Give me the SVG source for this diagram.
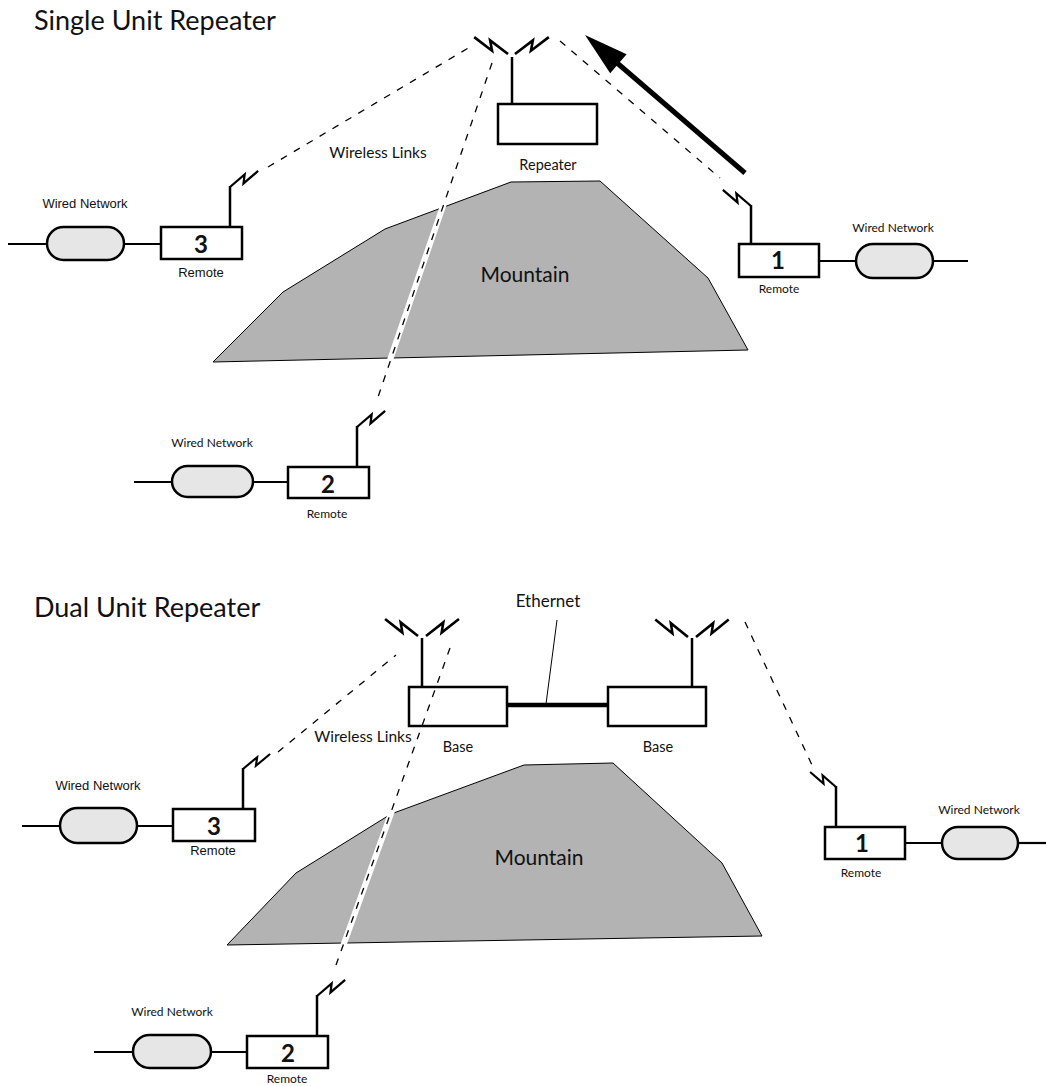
<svg xmlns="http://www.w3.org/2000/svg" width="1046" height="1086" viewBox="0 0 1046 1086">
  <style>
    .gs { font-family: Lato, "Noto Sans", sans-serif; fill: #111; }
    .hv { font-family: "Liberation Sans", Arial, sans-serif; fill: #111; }
    .title { font-size: 27px; }
    .lbl { font-size: 14.5px; text-anchor: middle; }
    .links { font-size: 15.5px; text-anchor: middle; }
    .eth { font-size: 17px; text-anchor: middle; }
    .small { font-size: 12px; text-anchor: middle; }
    .smallhv { font-size: 13px; text-anchor: middle; }
    .num { font-size: 24px; font-weight: 700; text-anchor: middle; }
    .mtn-label { font-size: 21px; text-anchor: middle; }
    .box { fill: #fff; stroke: #000; stroke-width: 2.5; }
    .pill { fill: #e6e6e6; stroke: #000; stroke-width: 2.5; }
    .wire { stroke: #000; stroke-width: 2.2; fill: none; }
    .mast { stroke: #000; stroke-width: 2.5; fill: none; }
    .bolt { stroke: #000; stroke-width: 2.5; fill: none; stroke-linejoin: miter; }
    .mountain { fill: #b3b3b3; stroke: #000; stroke-width: 1; stroke-linejoin: miter; }
    .gap { stroke: #fff; stroke-width: 6; fill: none; }
    .link { stroke: #000; stroke-width: 1.3; stroke-dasharray: 7 8; fill: none; }
  </style>
  <defs>
    <!-- radio bolt: starts at mast end (0,0), runs out along +x -->
    <path id="bolt" class="bolt" d="M0,0 L21,4 L15,-4 L36,0"/>
  </defs>

  <!-- ===== Single Unit Repeater ===== -->
  <text class="gs title" x="34" y="30">Single Unit Repeater</text>

  <g id="mountain-top">
    <polygon class="mountain" points="213,362 283,292 385,229 511,182 600,181 708,278 748,350"/>
    <line class="gap" x1="444" y1="203" x2="389" y2="363"/>
    <text class="gs mtn-label" x="525" y="282">Mountain</text>
  </g>

  <g id="repeater">
    <use href="#bolt" transform="translate(508,54) rotate(206.57) scale(1.05)"/>
    <use href="#bolt" transform="translate(515,54) rotate(-26.57) scale(1.05,-1.05)"/>
    <line class="mast" x1="512" y1="57" x2="512" y2="104"/>
    <rect class="box" x="498" y="104" width="99" height="40"/>
    <text class="gs lbl" x="548" y="170">Repeater</text>
  </g>

  <g id="remote3-top">
    <use href="#bolt" transform="translate(230,187) rotate(-29.7) scale(0.9,-0.9)"/>
    <line class="mast" x1="230" y1="186" x2="230" y2="227"/>
    <rect class="box" x="161" y="227" width="81" height="32"/>
    <text class="gs num" x="201" y="253">3</text>
    <text class="hv smallhv" x="201" y="277">Remote</text>
    <rect class="pill" x="47" y="227" width="77" height="33" rx="16.5"/>
    <text class="hv smallhv" x="85" y="208">Wired Network</text>
  </g>

  <g id="remote1-top">
    <use href="#bolt" transform="translate(751,206) rotate(209.7) scale(0.9)"/>
    <line class="mast" x1="751" y1="205" x2="751" y2="244"/>
    <rect class="box" x="739" y="244" width="80" height="33"/>
    <text class="gs num" x="778" y="269">1</text>
    <text class="gs small" x="779" y="293">Remote</text>
    <rect class="pill" x="856" y="244" width="77" height="34" rx="17"/>
    <text class="gs small" x="893" y="232">Wired Network</text>
  </g>

  <g id="remote2-top">
    <use href="#bolt" transform="translate(357,427) rotate(-29.7) scale(0.9,-0.9)"/>
    <line class="mast" x1="357" y1="426" x2="357" y2="467"/>
    <rect class="box" x="288" y="467" width="81" height="31"/>
    <text class="gs num" x="328" y="493">2</text>
    <text class="gs small" x="327" y="518">Remote</text>
    <rect class="pill" x="172" y="466" width="81" height="31" rx="15.5"/>
    <text class="gs small" x="212" y="447">Wired Network</text>
  </g>

  <g id="connectors-top">
    <line class="link" x1="268" y1="167" x2="470" y2="47"/>
    <line class="link" x1="492" y1="63" x2="377" y2="400"/>
    <line class="link" x1="560" y1="41" x2="720" y2="178"/>
    <line class="wire" x1="8" y1="244" x2="47" y2="244"/>
    <line class="wire" x1="124" y1="244" x2="161" y2="244"/>
    <line class="wire" x1="819" y1="261" x2="856" y2="261"/>
    <line class="wire" x1="933" y1="261" x2="968" y2="261"/>
    <line class="wire" x1="134" y1="482" x2="172" y2="482"/>
    <line class="wire" x1="253" y1="482" x2="288" y2="482"/>
    <text class="gs links" x="378" y="158">Wireless Links</text>
  </g>

  <g id="arrow">
    <line x1="745" y1="173" x2="616" y2="62" stroke="#000" stroke-width="5"/>
    <polygon points="585,35 626.6,54.3 610.2,73.3" fill="#000"/>
  </g>

  <!-- ===== Dual Unit Repeater ===== -->
  <text class="gs title" x="34" y="617">Dual Unit Repeater</text>

  <g id="mountain-bottom">
    <polygon class="mountain" points="227,945 296,873 391,814 524,765 613,763 722,863 762,936"/>
    <line class="gap" x1="393" y1="808" x2="342" y2="949"/>
    <text class="gs mtn-label" x="539" y="865">Mountain</text>
  </g>

  <g id="base-left">
    <use href="#bolt" transform="translate(418,636) rotate(207.3) scale(1.03)"/>
    <use href="#bolt" transform="translate(426,636) rotate(-27.3) scale(1.03,-1.03)"/>
    <line class="mast" x1="422" y1="638" x2="422" y2="687"/>
    <rect class="box" x="409" y="687" width="98" height="39"/>
    <text class="gs lbl" x="458" y="752">Base</text>
  </g>

  <g id="base-right">
    <use href="#bolt" transform="translate(688,637) rotate(208) scale(1.03)"/>
    <use href="#bolt" transform="translate(696,637) rotate(-28) scale(1.03,-1.03)"/>
    <line class="mast" x1="692" y1="638" x2="692" y2="687"/>
    <rect class="box" x="608" y="687" width="98" height="39"/>
    <text class="gs lbl" x="658" y="752">Base</text>
  </g>

  <g id="remote3-bottom">
    <use href="#bolt" transform="translate(243,769) rotate(-29) scale(0.86,-0.86)"/>
    <line class="mast" x1="243" y1="768" x2="243" y2="809"/>
    <rect class="box" x="173" y="809" width="82" height="32"/>
    <text class="gs num" x="214" y="835">3</text>
    <text class="hv smallhv" x="213" y="855">Remote</text>
    <rect class="pill" x="60" y="808" width="77" height="35" rx="17.5"/>
    <text class="hv smallhv" x="98" y="790">Wired Network</text>
  </g>

  <g id="remote1-bottom">
    <use href="#bolt" transform="translate(836,787) rotate(210) scale(0.83)"/>
    <line class="mast" x1="836" y1="786" x2="836" y2="827"/>
    <rect class="box" x="825" y="827" width="80" height="32"/>
    <text class="gs num" x="862" y="852">1</text>
    <text class="gs small" x="861" y="877">Remote</text>
    <rect class="pill" x="942" y="827" width="76" height="32" rx="16"/>
    <text class="gs small" x="979" y="814">Wired Network</text>
  </g>

  <g id="remote2-bottom">
    <use href="#bolt" transform="translate(317,996) rotate(-29.7) scale(0.9,-0.9)"/>
    <line class="mast" x1="317" y1="995" x2="317" y2="1036"/>
    <rect class="box" x="247" y="1036" width="81" height="32"/>
    <text class="gs num" x="288" y="1062">2</text>
    <text class="gs small" x="287" y="1083">Remote</text>
    <rect class="pill" x="133" y="1035" width="78" height="33" rx="16.5"/>
    <text class="gs small" x="172" y="1016">Wired Network</text>
  </g>

  <g id="connectors-bottom">
    <line class="link" x1="278" y1="752" x2="396" y2="655"/>
    <line class="link" x1="450" y1="648" x2="336" y2="965"/>
    <line class="link" x1="745" y1="622" x2="812" y2="765"/>
    <line x1="507" y1="705" x2="608" y2="705" stroke="#000" stroke-width="4.5"/>
    <line x1="557" y1="620" x2="546" y2="704" stroke="#000" stroke-width="1"/>
    <line class="wire" x1="22" y1="826" x2="60" y2="826"/>
    <line class="wire" x1="137" y1="826" x2="173" y2="826"/>
    <line class="wire" x1="905" y1="843" x2="942" y2="843"/>
    <line class="wire" x1="1018" y1="843" x2="1046" y2="843"/>
    <line class="wire" x1="94" y1="1052" x2="133" y2="1052"/>
    <line class="wire" x1="211" y1="1052" x2="247" y2="1052"/>
    <text class="gs eth" x="548" y="607">Ethernet</text>
    <text class="gs links" x="363" y="742">Wireless Links</text>
  </g>
</svg>
